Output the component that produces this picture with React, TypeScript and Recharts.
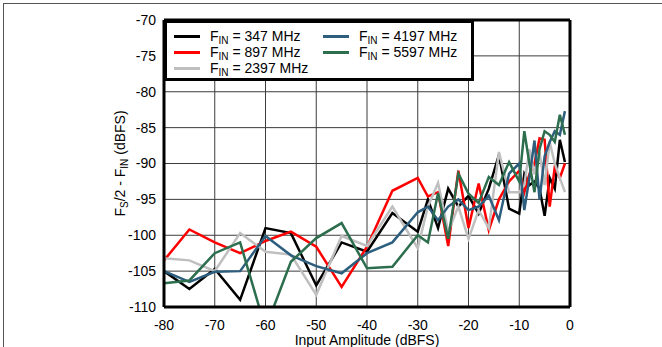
import React from "react";
import {
  LineChart,
  Line,
  XAxis,
  YAxis,
  CartesianGrid,
  Legend,
  ReferenceLine,
} from "recharts";

// input amplitude (dBFS)
const amplitude = [
  -80, -75, -70, -65, -60, -55, -50, -45, -40, -35, -30, -28, -26, -24, -22, -20, -18, -16, -14, -12,
  -10, -9, -8, -7, -6, -5, -4, -3, -2, -1,
];

const fin347 = [
  -105, -107.5, -104.7, -109, -99, -99.7, -107, -101, -102.3, -96.9, -99.5, -95, -99, -93.5, -96, -94.5,
  -97, -93.5, -88.8, -96.3, -97, -91.5, -93, -92.5, -93.5, -97.3, -92, -93.5, -86.7, -89.8,
];
const fin897 = [
  -103.5, -99.2, -101, -102.5, -100.8, -99.5, -101.6, -107.2, -101.6, -93.8, -92, -94.6, -94, -101.5, -91,
  -99, -92.8, -99.3, -95, -92.5, -91, -94, -91.5, -90, -86.5, -86.7, -96, -90.5, -92, -90,
];
const fin2397 = [
  -103.2, -103.5, -105, -99.7, -102.3, -102.7, -108.3, -100.1, -101.5, -96, -101.8, -96, -92.7, -99.5, -96,
  -100.5, -96.5, -99, -88.4, -94, -94, -93, -88, -91.5, -88.5, -93, -87, -90, -92, -94,
];
const fin4197 = [
  -105, -106.5, -105.1, -105, -100.1, -102.8, -104.3, -105.3, -102.5, -101, -96.8, -96, -97.9, -96, -95,
  -96.5, -96, -94.5, -97.9, -91.4, -90, -96.5, -92, -86.8, -95, -89, -87, -85.5, -86, -82.7,
];
const fin5597 = [
  -106.7, -106.3, -102.5, -101, -113, -103.7, -100.4, -98.3, -104.6, -104.4, -100, -101, -94.1, -100.5,
  -91.4, -94.2, -95.5, -91.9, -93, -89.8, -92.5, -85.5, -90, -94, -88, -85.5, -86, -87, -83.2, -86,
];

const xTicks = [-80, -70, -60, -50, -40, -30, -20, -10, 0];
const yTicks = [-110, -105, -100, -95, -90, -85, -80, -75, -70];

const series = [
  { key: "f347", label: "347 MHz", color: "#000000", values: fin347 },
  { key: "f897", label: "897 MHz", color: "#ff0000", values: fin897 },
  { key: "f2397", label: "2397 MHz", color: "#bfbfbf", values: fin2397 },
  { key: "f4197", label: "4197 MHz", color: "#2d5e7e", values: fin4197 },
  { key: "f5597", label: "5597 MHz", color: "#2c6e4e", values: fin5597 },
];

const data = amplitude.map((x, i) => {
  const row: any = { x };
  series.forEach((s) => (row[s.key] = s.values[i]));
  return row;
});

const FONT = "'Liberation Sans', Arial, sans-serif";

// legend keeps the series order (recharts sorts its payload by name)
const LegendBox = () => (
  <div
    style={{
      boxSizing: "border-box",
      width: 310,
      height: 61,
      border: "3px solid #000",
      background: "#fff",
      padding: "5px 0 0 7px",
      display: "grid",
      gridTemplateRows: "16px 16px 16px",
      gridTemplateColumns: "149px 150px",
      gridAutoFlow: "column",
      fontFamily: FONT,
      fontSize: 14,
      color: "#000",
    }}
  >
    {series.map((s) => (
      <div key={s.key} style={{ display: "flex", alignItems: "center", whiteSpace: "nowrap" }}>
        <span style={{ display: "inline-block", width: 26, height: 3, background: s.color, marginRight: 10 }} />
        <span>
          F<sub style={{ fontSize: 10, verticalAlign: "-3px", lineHeight: 0 }}>IN</sub> = {s.label}
        </span>
      </div>
    ))}
  </div>
);

const YTitle = (props: any) => {
  const { viewBox } = props;
  const cx = 120;
  const cy = viewBox.y + viewBox.height / 2;
  return (
    <text
      x={cx}
      y={cy}
      transform={`rotate(-90 ${cx} ${cy})`}
      textAnchor="middle"
      dominantBaseline="central"
      fontFamily={FONT}
      fontSize={14}
      fill="#000"
    >
      F<tspan dy={4} fontSize={10}>S</tspan>
      <tspan dy={-4}>/2 - F</tspan>
      <tspan dy={4} fontSize={10}>IN</tspan>
      <tspan dy={-4}> (dBFS)</tspan>
    </text>
  );
};

const XTitle = (props: any) => {
  const { viewBox } = props;
  return (
    <text
      x={viewBox.x + viewBox.width / 2}
      y={345}
      textAnchor="middle"
      fontFamily={FONT}
      fontSize={14}
      fill="#000"
    >
      Input Amplitude (dBFS)
    </text>
  );
};

export default function App() {
  return (
    <div style={{ position: "absolute", left: 0, top: 0, width: 662, height: 347, background: "#fff" }}>
      <div
        style={{
          position: "absolute",
          left: 3,
          top: 3,
          width: 659,
          height: 344,
          borderTop: "1.5px solid #555",
          borderLeft: "1.5px solid #555",
        }}
      />
      <LineChart
        width={662}
        height={347}
        data={data}
        margin={{ top: 20, right: 92, left: 0, bottom: 0 }}
      >
        <CartesianGrid stroke="#3c3c3c" strokeWidth={1} />
        <XAxis
          type="number"
          dataKey="x"
          domain={[-80, 0]}
          ticks={xTicks}
          height={40}
          tickLine={false}
          tickMargin={7}
          axisLine={{ stroke: "#000", strokeWidth: 3 }}
          tick={{ fill: "#000", fontSize: 14, fontFamily: FONT }}
          label={{ content: XTitle }}
        />
        <YAxis
          type="number"
          domain={[-110, -70]}
          ticks={yTicks}
          allowDataOverflow
          width={164}
          tickLine={false}
          axisLine={{ stroke: "#000", strokeWidth: 3 }}
          tick={{ fill: "#000", fontSize: 14, fontFamily: FONT }}
          label={{ content: YTitle }}
        />
        <ReferenceLine y={-70} stroke="#000" strokeWidth={3} />
        <ReferenceLine x={0} stroke="#000" strokeWidth={3} />
        {series.map((s) => (
          <Line
            key={s.key}
            type="linear"
            dataKey={s.key}
            name={s.label}
            stroke={s.color}
            strokeWidth={2.5}
            dot={false}
            isAnimationActive={false}
          />
        ))}
        <Legend
          layout="horizontal"
          verticalAlign="middle"
          align="center"
          content={<LegendBox />}
          wrapperStyle={{ left: 164, top: 20, width: 310, height: 61 }}
        />
      </LineChart>
    </div>
  );
}
